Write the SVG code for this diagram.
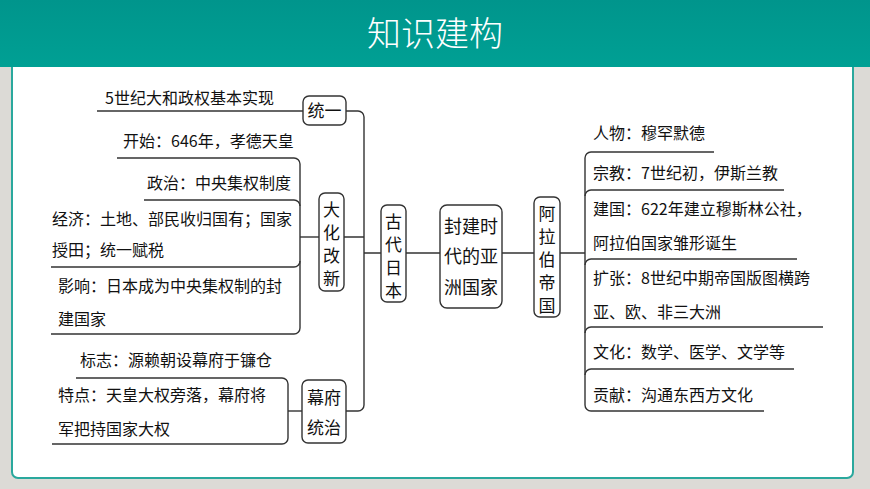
<svg xmlns="http://www.w3.org/2000/svg" width="870" height="489" viewBox="0 0 870 489">
<defs>
<linearGradient id="hd" x1="0" y1="0" x2="0" y2="1"><stop offset="0" stop-color="#00958c"/><stop offset="1" stop-color="#00a094"/></linearGradient>
<style>
text{font-family:"Noto Sans CJK SC","Liberation Serif",serif;font-size:17px;fill:#111}
.lf text{font-size:16px}
.l{fill:none;stroke:#333;stroke-width:1.4}
.b{fill:#fff;stroke:#333;stroke-width:1.4}
.c{text-anchor:middle}
</style>
</defs>
<rect width="870" height="489" fill="#dcdad6"/>
<rect x="12" y="60" width="841" height="418" rx="6" fill="#fff" stroke="#2aa89d" stroke-width="2"/>
<rect width="870" height="67" fill="url(#hd)"/>
<text x="435" y="46" class="c" style="font-size:34px;fill:#fff;font-weight:300">知识建构</text>

<g id="connectors">
<path class="l" d="M97 111H303"/>
<path class="l" d="M346 111H358a6 6 0 0 1 6 6V405a6 6 0 0 1-6 6H346"/>
<path class="l" d="M344 237H364M364 253H381M406 253H440M502 253H534M560 253H585"/>
<path class="l" d="M300 237H319"/>
<path class="l" d="M117 158H294a6 6 0 0 1 6 6V328a6 6 0 0 1-6 6H51"/>
<path class="l" d="M144 200H294a6 6 0 0 1 6 6M51 267H294a6 6 0 0 0 6-6"/>
<path class="l" d="M288 411H302"/>
<path class="l" d="M76 378H282a6 6 0 0 1 6 6V438a6 6 0 0 1-6 6H52"/>
<path class="l" d="M714 152H591a6 6 0 0 0-6 6V405a6 6 0 0 0 6 6H764"/>
<path class="l" d="M784 190H591a6 6 0 0 0-6 6M797 259H591a6 6 0 0 0-6 6M823 327H591a6 6 0 0 0-6 6M794 369H591a6 6 0 0 0-6 6"/>
</g>

<g id="n-tongyi"><rect class="b" x="303" y="96" width="43" height="29" rx="6"/><text x="324.5" y="117" class="c">统一</text></g>
<g id="n-dahua"><rect class="b" x="319" y="193" width="25" height="98" rx="6"/><text x="331.5" y="216" class="c">大</text><text x="331.5" y="239" class="c">化</text><text x="331.5" y="262" class="c">改</text><text x="331.5" y="285" class="c">新</text></g>
<g id="n-gudai"><rect class="b" x="381" y="205" width="25" height="97" rx="6"/><text x="393.5" y="228" class="c">古</text><text x="393.5" y="251" class="c">代</text><text x="393.5" y="274" class="c">日</text><text x="393.5" y="297" class="c">本</text></g>
<g id="n-mufu"><rect class="b" x="302" y="380" width="44" height="63" rx="6"/><text x="324" y="404" class="c">幕府</text><text x="324" y="434" class="c">统治</text></g>
<g id="n-fengjian"><rect class="b" x="440" y="205" width="62" height="103" rx="7"/><text x="471" y="233" class="c" style="font-size:18px">封建时</text><text x="471" y="263" class="c" style="font-size:18px">代的亚</text><text x="471" y="294" class="c" style="font-size:18px">洲国家</text></g>
<g id="n-alabo"><rect class="b" x="534" y="197" width="26" height="120" rx="6"/><text x="547" y="220" class="c">阿</text><text x="547" y="243" class="c">拉</text><text x="547" y="266" class="c">伯</text><text x="547" y="289" class="c">帝</text><text x="547" y="312" class="c">国</text></g>

<g id="leaves-left" class="lf">
<text x="105" y="104">5世纪大和政权基本实现</text>
<text x="123" y="147">开始：646年，孝德天皇</text>
<text x="147" y="189">政治：中央集权制度</text>
<text x="52" y="225">经济：土地、部民收归国有；国家</text>
<text x="52" y="256">授田；统一赋税</text>
<text x="58" y="292">影响：日本成为中央集权制的封</text>
<text x="58" y="325">建国家</text>
<text x="80" y="366">标志：源赖朝设幕府于镰仓</text>
<text x="58" y="401">特点：天皇大权旁落，幕府将</text>
<text x="58" y="435">军把持国家大权</text>
</g>
<g id="leaves-right" class="lf">
<text x="593" y="139">人物：穆罕默德</text>
<text x="593" y="179">宗教：7世纪初，伊斯兰教</text>
<text x="593" y="215">建国：622年建立穆斯林公社，</text>
<text x="593" y="249">阿拉伯国家雏形诞生</text>
<text x="593" y="284">扩张：8世纪中期帝国版图横跨</text>
<text x="593" y="318">亚、欧、非三大洲</text>
<text x="593" y="358">文化：数学、医学、文学等</text>
<text x="593" y="401">贡献：沟通东西方文化</text>
</g>
</svg>
